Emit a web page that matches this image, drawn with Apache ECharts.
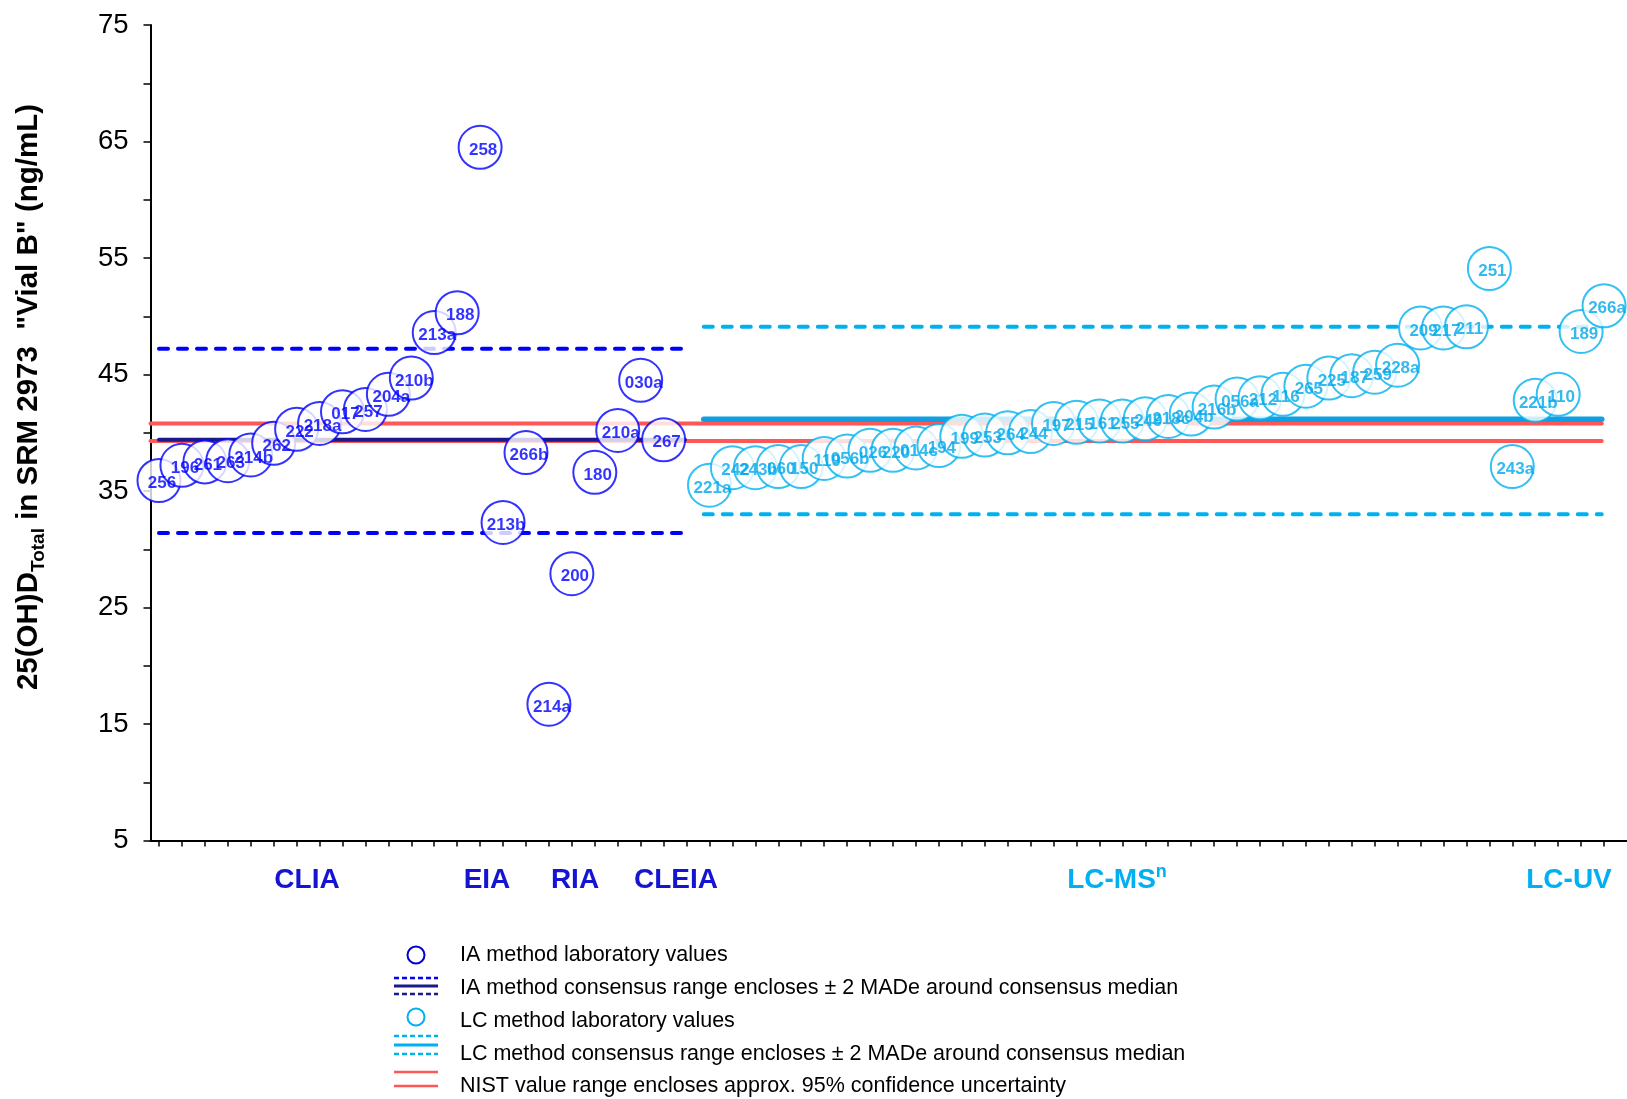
<!DOCTYPE html>
<html>
<head>
<meta charset="utf-8">
<title>25(OH)D Total in SRM 2973 Vial B</title>
<script src="https://cdn.jsdelivr.net/npm/echarts/dist/echarts.min.js"></script>
<style>
  html, body { margin: 0; padding: 0; background: #fff; }
  #main { width: 1627px; height: 1099px; }
</style>
</head>
<body>
<div id="main"></div>
<script>
// Immunoassay (IA) laboratories, in plotting order: CLIA, EIA, RIA, CLEIA
const iaLabs = ['256','196','261','263','214b','262','222','218a','017','257','204a','210b','213a','188',
                '258','213b','266b','214a','200','180','210a','030a','267'];
const iaValues = [35.9, 37.2, 37.5, 37.6, 38.1, 39.1, 40.3, 40.8, 41.8, 42.0, 43.3, 44.7, 48.6, 50.3,
                  64.5, 32.3, 38.3, 16.7, 27.9, 36.6, 40.2, 44.5, 39.4];

// Liquid chromatography (LC) laboratories: LC-MS^n then LC-UV
const lcLabs = ['221a','242','243b','060','150','119','056b','026','220','014c','194','199','253','264','244',
                '197','215','161','255','249','218c','204b','216b','056a','212','116','265','225','187','259',
                '228a','209','217','211','251','243a','221b','110','189','266a'];
const lcValues = [35.5, 37.0, 37.0, 37.1, 37.1, 37.8, 38.0, 38.5, 38.5, 38.7, 38.9, 39.7, 39.8, 40.0, 40.1,
                  40.8, 40.9, 41.0, 41.0, 41.2, 41.4, 41.6, 42.2, 42.9, 43.0, 43.3, 44.0, 44.7, 44.9, 45.2,
                  45.8, 49.0, 49.0, 49.1, 54.1, 37.1, 42.8, 43.3, 48.7, 50.9];

// Consensus ranges: [median - 2 MADe, median, median + 2 MADe]
const iaConsensus = [31.4, 39.4, 47.2];
const lcConsensus = [33.0, 41.15, 49.1];
// NIST certified value range (approx. 95 % confidence)
const nistRange = [39.3, 40.8];

// Horizontal extent of each reference line, in lab-position units
const iaSpan = [0, 22.93];
const lcSpan = [23.75, 62.9];
const nistSpan = [-0.37, 62.9];
const lcStart = 24;               // first LC lab position (one empty slot after the IA labs)

// Y axis ticks and labelled values
const yTickLabels = [5, 15, 25, 35, 45, 55, 65, 75];

// Method group captions under the axis
const groupNames = ['CLIA', 'EIA', 'RIA', 'CLEIA', 'LC-MS', 'LC-UV'];

const FONT = "'Liberation Sans', Arial, Helvetica, sans-serif";
const IA_BLUE = '#0000ff';
const IA_NAVY = '#1a1a8c';
const LC_CYAN = '#00b0f0';
const LC_TEXT = '#00a8ea';
const LC_SOLID = '#0f9fe2';
const NIST_RED = '#ff5656';

function hLine(name, y, span, color, width, dash, z) {
  return {
    type: 'line', name: name, silent: true, animation: false,
    data: [[span[0], y], [span[1], y]],
    symbol: 'none', z: z,
    lineStyle: { color: color, width: width, type: dash, cap: 'round' }
  };
}

const series = [
  hLine('NIST low', nistRange[0], nistSpan, NIST_RED, 4, 'solid', 1),
  hLine('NIST high', nistRange[1], nistSpan, NIST_RED, 4, 'solid', 1),
  hLine('IA low', iaConsensus[0], iaSpan, IA_BLUE, 4, [9, 10], 2),
  hLine('IA median', iaConsensus[1], iaSpan, IA_NAVY, 4, 'solid', 2),
  hLine('IA high', iaConsensus[2], iaSpan, IA_BLUE, 4, [9, 10], 2),
  hLine('LC low', lcConsensus[0], lcSpan, LC_CYAN, 4, [9, 10], 2),
  hLine('LC median', lcConsensus[1], lcSpan, LC_SOLID, 5.5, 'solid', 2),
  hLine('LC high', lcConsensus[2], lcSpan, LC_CYAN, 4, [9, 10], 2),
  {
    type: 'scatter', name: 'IA method laboratory values', silent: true, animation: false, z: 5,
    data: iaLabs.map((lab, i) => ({ name: lab, value: [i, iaValues[i]] })),
    symbol: 'circle', symbolSize: 43,
    itemStyle: { color: '#ffffff', borderColor: IA_BLUE, borderWidth: 2 },
    label: {
      show: true, position: 'inside', offset: [3, 3], formatter: p => p.name,
      color: IA_BLUE, fontWeight: 'bold', fontSize: 17, fontFamily: FONT
    }
  },
  {
    type: 'scatter', name: 'LC method laboratory values', silent: true, animation: false, z: 5,
    data: lcLabs.map((lab, i) => ({ name: lab, value: [lcStart + i, lcValues[i]] })),
    symbol: 'circle', symbolSize: 43,
    itemStyle: { color: '#ffffff', borderColor: LC_CYAN, borderWidth: 2 },
    label: {
      show: true, position: 'inside', offset: [3, 3], formatter: p => p.name,
      color: LC_TEXT, fontWeight: 'bold', fontSize: 17, fontFamily: FONT
    }
  }
];

const xTickPositions = [];
for (let i = 0; i < 64; i++) xTickPositions.push(i);

// Legend rows drawn as graphic elements (icon + text)
const legendX = 460, iconL = 394, iconR = 438, iconC = 416;
const legendRows = [955, 988, 1021, 1054, 1086];
const legendTexts = [
  'IA method laboratory values',
  'IA method consensus range encloses \u00b1 2 MADe around consensus median',
  'LC method laboratory values',
  'LC method consensus range encloses \u00b1 2 MADe around consensus median',
  'NIST value range encloses approx. 95% confidence uncertainty'
];

function legLine(y, color, width, dash) {
  return { type: 'line', silent: true, shape: { x1: iconL, y1: y, x2: iconR, y2: y },
           style: { stroke: color, lineWidth: width, lineDash: dash } };
}

function caption(x, text, color) {
  return { type: 'text', x: x, y: 880, silent: true,
           style: { text: text, align: 'center', verticalAlign: 'middle', fontSize: 28,
                    fontWeight: 'bold', fontFamily: FONT, fill: color } };
}

const graphics = [
  // Y axis title with subscript
  {
    type: 'text', x: 29, y: 397, rotation: Math.PI / 2, silent: true,
    style: {
      text: '{b|25(OH)D}{s|Total}{b| in SRM 2973  "Vial B" (ng/mL)}',
      align: 'center', verticalAlign: 'middle',
      rich: {
        b: { fontSize: 29.5, fontWeight: 'bold', fontFamily: FONT, fill: '#000', lineHeight: 38 },
        s: { fontSize: 19, fontWeight: 'bold', fontFamily: FONT, fill: '#000', lineHeight: 19, verticalAlign: 'bottom' }
      }
    }
  },
  // Method group captions
  caption(307, groupNames[0], '#1414d2'),
  caption(487, groupNames[1], '#1414d2'),
  caption(575, groupNames[2], '#1414d2'),
  caption(676, groupNames[3], '#1414d2'),
  {
    type: 'text', x: 1117, y: 880, silent: true,
    style: {
      text: '{m|' + groupNames[4] + '}{p|n}', align: 'center', verticalAlign: 'middle',
      rich: {
        m: { fontSize: 28, fontWeight: 'bold', fontFamily: FONT, fill: LC_CYAN, lineHeight: 34 },
        p: { fontSize: 18, fontWeight: 'bold', fontFamily: FONT, fill: LC_CYAN, lineHeight: 18, verticalAlign: 'top' }
      }
    }
  },
  caption(1569, groupNames[5], LC_CYAN),

  // Legend icons
  { type: 'circle', silent: true, shape: { cx: iconC, cy: legendRows[0], r: 8.5 }, style: { fill: '#fff', stroke: '#0000cc', lineWidth: 2 } },
  legLine(legendRows[1] - 10, IA_BLUE, 2.5, [5, 3]),
  legLine(legendRows[1] - 2, IA_NAVY, 3, null),
  legLine(legendRows[1] + 6, IA_NAVY, 2.5, [5, 3]),
  { type: 'circle', silent: true, shape: { cx: iconC, cy: legendRows[2] - 4, r: 8.5 }, style: { fill: '#fff', stroke: LC_CYAN, lineWidth: 2 } },
  legLine(legendRows[3] - 18, LC_CYAN, 2.5, [5, 3]),
  legLine(legendRows[3] - 9, LC_CYAN, 3, null),
  legLine(legendRows[3], LC_CYAN, 2.5, [5, 3]),
  legLine(legendRows[4] - 14, NIST_RED, 2.5, null),
  legLine(legendRows[4], NIST_RED, 2.5, null)
];
legendTexts.forEach((t, i) => {
  graphics.push({
    type: 'text', x: legendX, y: legendRows[i], silent: true,
    style: { text: t, align: 'left', verticalAlign: 'middle', fontSize: 21.5, fontFamily: FONT, fill: '#000' }
  });
});

const option = {
  animation: false,
  backgroundColor: '#ffffff',
  grid: { left: 150.5, top: 25, width: 1483, height: 815.5, containLabel: false },
  xAxis: {
    type: 'value', min: -0.37, max: 64,
    axisLine: { show: true, onZero: false, lineStyle: { color: '#000', width: 2 } },
    axisTick: { show: true, customValues: xTickPositions, length: 6, lineStyle: { color: '#000', width: 1.5 } },
    axisLabel: { show: false },
    splitLine: { show: false }
  },
  yAxis: {
    type: 'value', min: 5, max: 75, interval: 5,
    axisLine: { show: true, onZero: false, lineStyle: { color: '#000', width: 2 } },
    axisTick: { show: true, length: 7, lineStyle: { color: '#000', width: 1.5 } },
    axisLabel: {
      margin: 22, fontSize: 27.5, fontFamily: FONT, color: '#000',
      formatter: v => (yTickLabels.indexOf(v) >= 0 ? String(v) : '')
    },
    splitLine: { show: false }
  },
  series: series,
  graphic: graphics
};

const chart = echarts.init(document.getElementById('main'));
chart.setOption(option);
</script>
</body>
</html>
